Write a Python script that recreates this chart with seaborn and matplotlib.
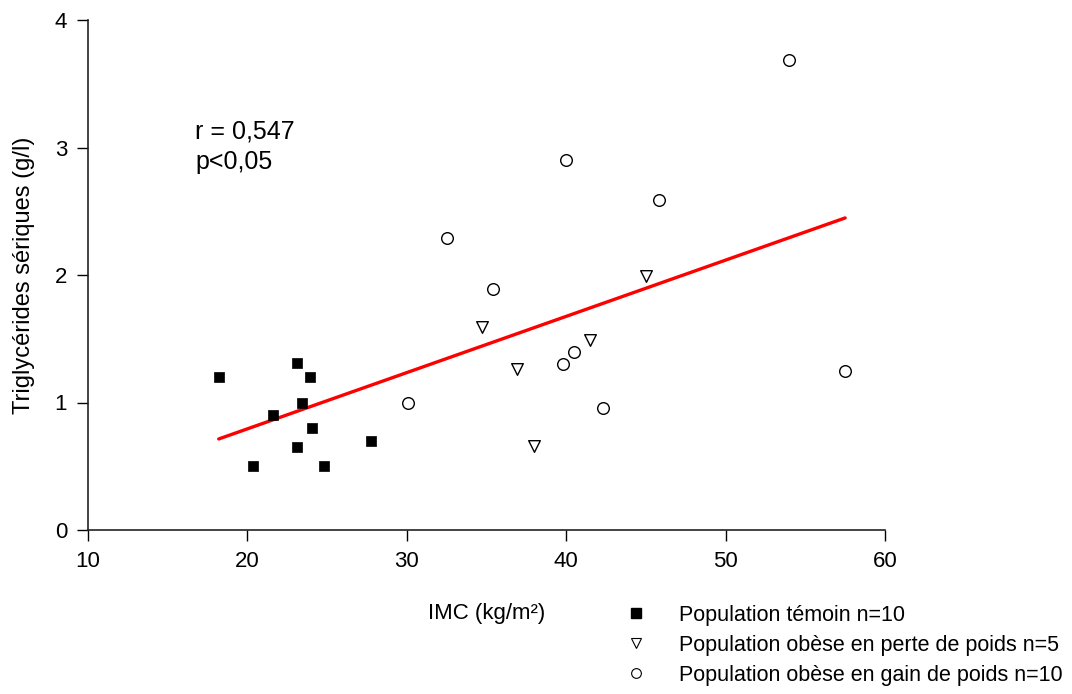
import matplotlib
matplotlib.use("Agg")
import matplotlib.pyplot as plt
import seaborn as sns
import pandas as pd
import numpy as np
from matplotlib.lines import Line2D

temoin_x = [18.2, 23.1, 23.9, 23.4, 21.6, 24.05, 23.1, 20.35, 24.8, 27.75]
temoin_y = [1.20, 1.31, 1.20, 1.00, 0.90, 0.80, 0.65, 0.50, 0.50, 0.70]
perte_x = [34.7, 36.9, 38.0, 41.5, 45.0]
perte_y = [1.59, 1.26, 0.66, 1.49, 1.99]
gain_x = [54.0, 40.0, 45.8, 32.5, 35.4, 30.1, 39.8, 40.5, 42.3, 57.5]
gain_y = [3.69, 2.90, 2.59, 2.29, 1.89, 1.00, 1.30, 1.40, 0.96, 1.25]

labels = ["Population témoin n=10",
          "Population obèse en perte de poids n=5",
          "Population obèse en gain de poids n=10"]
xticks = [10, 20, 30, 40, 50, 60]
yticks = [0, 1, 2, 3, 4]

sns.set_theme(style="ticks")
plt.rcParams['font.family'] = ['Liberation Sans', 'DejaVu Sans']
plt.rcParams['text.color'] = 'black'
plt.rcParams['axes.labelcolor'] = 'black'

df = pd.DataFrame({
    "x": temoin_x + perte_x + gain_x,
    "y": temoin_y + perte_y + gain_y,
    "g": [labels[0]] * len(temoin_x) + [labels[1]] * len(perte_x) + [labels[2]] * len(gain_x),
})

fig = plt.figure(figsize=(10.72, 6.94), dpi=100)
ax = fig.add_axes([88/1072, 1-530/694, (885-88)/1072, (530-20)/694])

sns.regplot(data=df, x="x", y="y", ax=ax, scatter=False, ci=None, truncate=True,
            line_kws=dict(color="#ff0000", lw=2.4, zorder=1))

d0 = df[df.g == labels[0]]
d1 = df[df.g == labels[1]]
d2 = df[df.g == labels[2]]
sns.scatterplot(data=d0, x="x", y="y", ax=ax, marker="s", s=60, color="black",
                edgecolor="black", linewidth=0.5, zorder=3)
sns.scatterplot(data=d1, x="x", y="y", ax=ax, marker="v", s=70, facecolor="white",
                edgecolor="black", linewidth=1.0, zorder=3)
sns.scatterplot(data=d2, x="x", y="y", ax=ax, marker="o", s=70, facecolor="white",
                edgecolor="black", linewidth=1.0, zorder=3)

ax.set_xlim(10, 60)
ax.set_ylim(0, 4)
ax.set_xticks(xticks)
ax.set_yticks(yticks)
ax.tick_params(axis="both", direction="out", length=8, width=1, labelsize=16,
               colors="black", pad=7)
for s in ["top", "right"]:
    ax.spines[s].set_visible(False)
for s in ["left", "bottom"]:
    ax.spines[s].set_color("#222222")
    ax.spines[s].set_linewidth(1.2)

ax.set_xlabel("")
ax.set_ylabel("Triglycérides sériques (g/l)", fontsize=17, labelpad=14)
fig.text(487/1072, 1-613/694, "IMC (kg/m²)", fontsize=16, ha="center", va="center")

ax.text(195/1072, 1-132/694, "r = 0,547", transform=fig.transFigure, fontsize=18, va="center")
ax.text(195/1072, 1-162/694, "p<0,05", transform=fig.transFigure, fontsize=18, va="center")

handles = [
    Line2D([], [], ls="none", marker="s", ms=7, mfc="black", mec="black"),
    Line2D([], [], ls="none", marker="v", ms=7, mfc="white", mec="black", mew=0.8),
    Line2D([], [], ls="none", marker="o", ms=7, mfc="white", mec="black", mew=0.8),
]
fig.legend(handles, labels, loc="upper left", bbox_to_anchor=(617/1072, 1-596/694),
           frameon=False, fontsize=15.5, handlelength=1.0, handletextpad=1.5,
           labelspacing=0.42, borderaxespad=0)

fig.savefig("out.png", dpi=100)
